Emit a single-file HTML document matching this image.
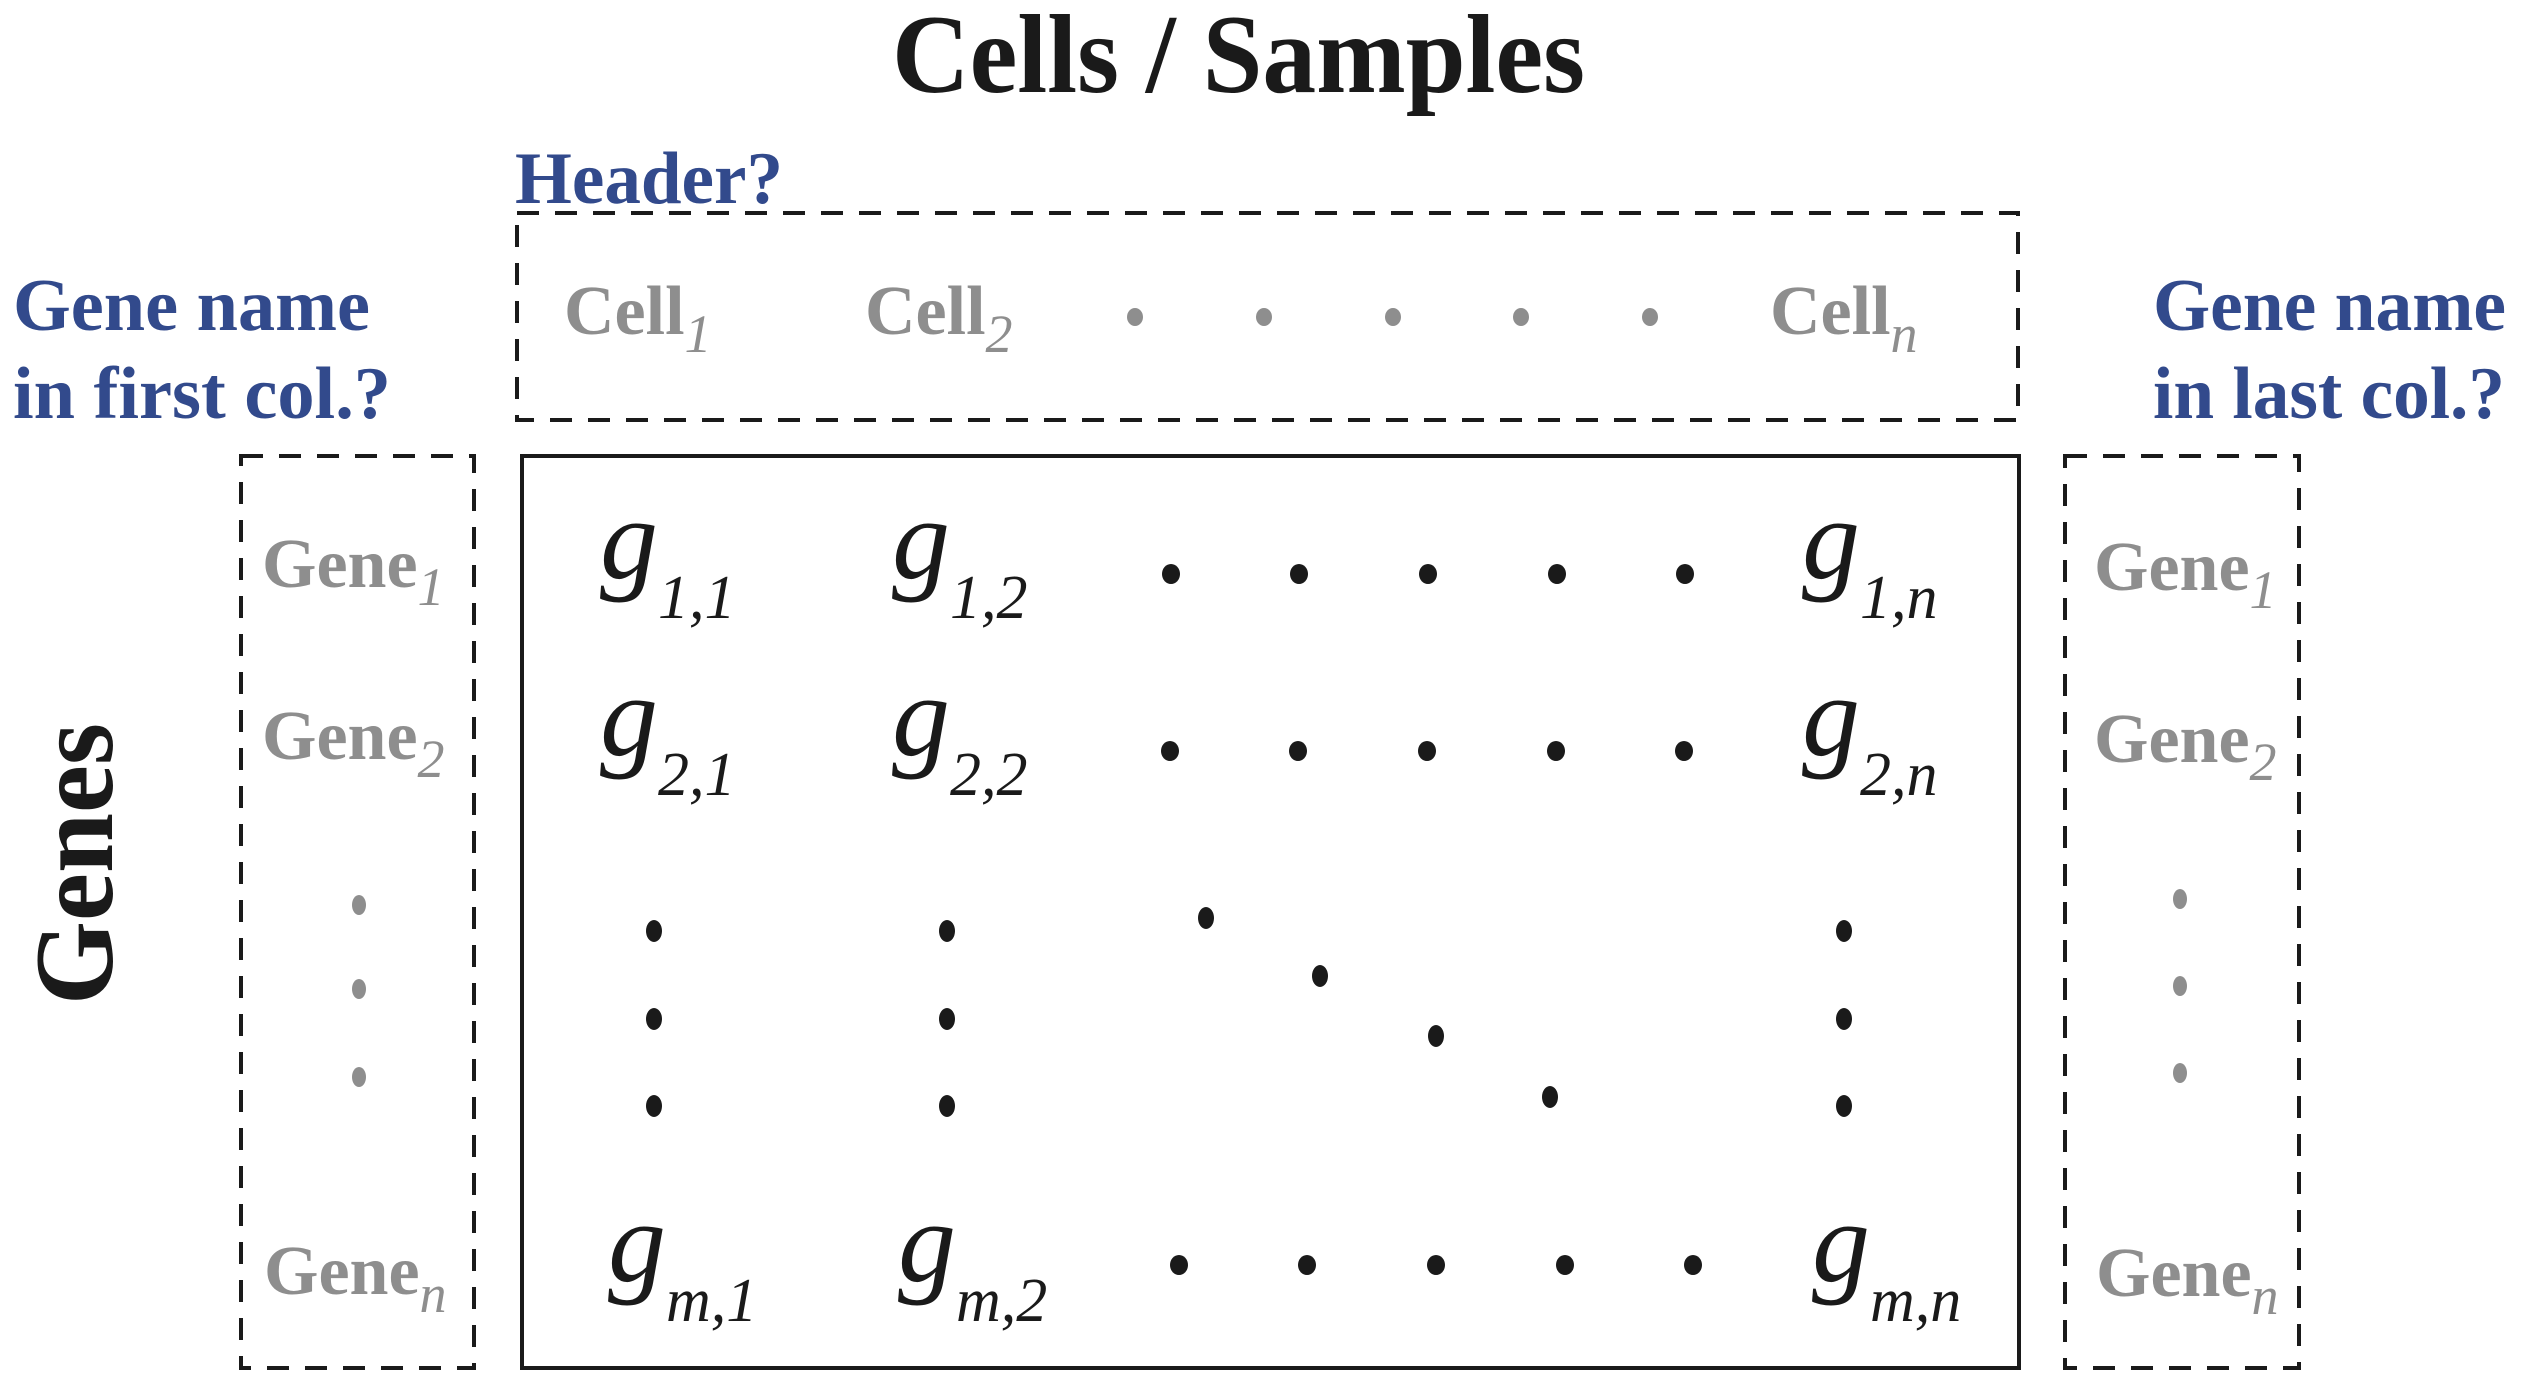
<!DOCTYPE html>
<html><head><meta charset="utf-8"><style>
html,body{margin:0;padding:0;background:#fff;}
svg{display:block;}
text{font-family:"Liberation Serif",serif;}
.b{font-weight:bold;}
.blue{fill:#324a8c;}
.gray{fill:#8e8e8e;font-weight:bold;}
.g{font-style:italic;fill:#1a1a1a;}
</style></head><body>
<svg width="2521" height="1383" viewBox="0 0 2521 1383">
<text x="892" y="92" class="b" font-size="112" fill="#1a1a1a" textLength="693" lengthAdjust="spacingAndGlyphs">Cells / Samples</text>
<text transform="translate(112,1005) rotate(-90)" class="b" font-size="112" fill="#1a1a1a" textLength="282" lengthAdjust="spacingAndGlyphs">Genes</text>
<text x="515" y="203" class="b blue" font-size="74" textLength="268" lengthAdjust="spacingAndGlyphs">Header?</text>
<text x="13" y="330" class="b blue" font-size="74" textLength="357" lengthAdjust="spacingAndGlyphs">Gene name</text>
<text x="13" y="418" class="b blue" font-size="74" textLength="378" lengthAdjust="spacingAndGlyphs">in first col.?</text>
<text x="2153" y="330" class="b blue" font-size="74" textLength="353" lengthAdjust="spacingAndGlyphs">Gene name</text>
<text x="2153" y="418" class="b blue" font-size="74" textLength="352" lengthAdjust="spacingAndGlyphs">in last col.?</text>
<g fill="none" stroke="#1a1a1a" stroke-width="4" stroke-dasharray="22 16">
<rect x="517" y="213" width="1501" height="207"/>
<rect x="241" y="456" width="233" height="912"/>
<rect x="2065" y="456" width="234" height="912"/>
</g>
<rect x="522" y="456" width="1497" height="912" fill="none" stroke="#1a1a1a" stroke-width="4"/>
<g font-size="70">
<text x="564" y="334" class="gray">Cell<tspan font-size="54" font-style="italic" font-weight="normal" dy="18">1</tspan></text>
<text x="865" y="334" class="gray">Cell<tspan font-size="54" font-style="italic" font-weight="normal" dy="18">2</tspan></text>
<text x="1770" y="334" class="gray">Cell<tspan font-size="54" font-style="italic" font-weight="normal" dy="18">n</tspan></text>
<text x="262" y="587" class="gray">Gene<tspan font-size="54" font-style="italic" font-weight="normal" dy="18">1</tspan></text>
<text x="262" y="759" class="gray">Gene<tspan font-size="54" font-style="italic" font-weight="normal" dy="18">2</tspan></text>
<text x="264" y="1294" class="gray">Gene<tspan font-size="54" font-style="italic" font-weight="normal" dy="18">n</tspan></text>
<text x="2094" y="590" class="gray">Gene<tspan font-size="54" font-style="italic" font-weight="normal" dy="18">1</tspan></text>
<text x="2094" y="762" class="gray">Gene<tspan font-size="54" font-style="italic" font-weight="normal" dy="18">2</tspan></text>
<text x="2096" y="1296" class="gray">Gene<tspan font-size="54" font-style="italic" font-weight="normal" dy="18">n</tspan></text>
</g>
<g font-size="116" class="g">
<text x="600" y="578" class="g">g<tspan font-size="62" dy="40">1,1</tspan></text>
<text x="892" y="578" class="g">g<tspan font-size="62" dy="40">1,2</tspan></text>
<text x="1802" y="578" class="g">g<tspan font-size="62" dy="40">1,n</tspan></text>
<text x="600" y="755" class="g">g<tspan font-size="62" dy="40">2,1</tspan></text>
<text x="892" y="755" class="g">g<tspan font-size="62" dy="40">2,2</tspan></text>
<text x="1802" y="755" class="g">g<tspan font-size="62" dy="40">2,n</tspan></text>
<text x="608" y="1281" class="g">g<tspan font-size="62" dy="40">m,1</tspan></text>
<text x="898" y="1281" class="g">g<tspan font-size="62" dy="40">m,2</tspan></text>
<text x="1812" y="1281" class="g">g<tspan font-size="62" dy="40">m,n</tspan></text>
</g>
<g fill="#8e8e8e">
<ellipse cx="1135" cy="317" rx="8" ry="9"/><ellipse cx="1264" cy="317" rx="8" ry="9"/><ellipse cx="1393" cy="317" rx="8" ry="9"/><ellipse cx="1521" cy="317" rx="8" ry="9"/><ellipse cx="1650" cy="317" rx="8" ry="9"/>
<ellipse cx="359" cy="905" rx="7" ry="10"/><ellipse cx="359" cy="989" rx="7" ry="10"/><ellipse cx="359" cy="1077" rx="7" ry="10"/>
<ellipse cx="2180" cy="899" rx="7" ry="10"/><ellipse cx="2180" cy="986" rx="7" ry="10"/><ellipse cx="2180" cy="1073" rx="7" ry="10"/>
</g>
<g fill="#1a1a1a">
<ellipse cx="1171" cy="574" rx="9" ry="10"/><ellipse cx="1299" cy="574" rx="9" ry="10"/><ellipse cx="1428" cy="574" rx="9" ry="10"/><ellipse cx="1557" cy="574" rx="9" ry="10"/><ellipse cx="1685" cy="574" rx="9" ry="10"/>
<ellipse cx="1170" cy="751" rx="9" ry="10"/><ellipse cx="1298" cy="751" rx="9" ry="10"/><ellipse cx="1427" cy="751" rx="9" ry="10"/><ellipse cx="1556" cy="751" rx="9" ry="10"/><ellipse cx="1684" cy="751" rx="9" ry="10"/>
<ellipse cx="1179" cy="1265" rx="9" ry="10"/><ellipse cx="1307" cy="1265" rx="9" ry="10"/><ellipse cx="1436" cy="1265" rx="9" ry="10"/><ellipse cx="1565" cy="1265" rx="9" ry="10"/><ellipse cx="1693" cy="1265" rx="9" ry="10"/>
<ellipse cx="654" cy="931" rx="8" ry="11"/><ellipse cx="654" cy="1019" rx="8" ry="11"/><ellipse cx="654" cy="1106" rx="8" ry="11"/>
<ellipse cx="947" cy="931" rx="8" ry="11"/><ellipse cx="947" cy="1019" rx="8" ry="11"/><ellipse cx="947" cy="1106" rx="8" ry="11"/>
<ellipse cx="1844" cy="931" rx="8" ry="11"/><ellipse cx="1844" cy="1019" rx="8" ry="11"/><ellipse cx="1844" cy="1106" rx="8" ry="11"/>
<ellipse cx="1206" cy="918" rx="8" ry="11"/><ellipse cx="1320" cy="976" rx="8" ry="11"/><ellipse cx="1436" cy="1036" rx="8" ry="11"/><ellipse cx="1550" cy="1097" rx="8" ry="11"/>
</g>
</svg>
</body></html>
